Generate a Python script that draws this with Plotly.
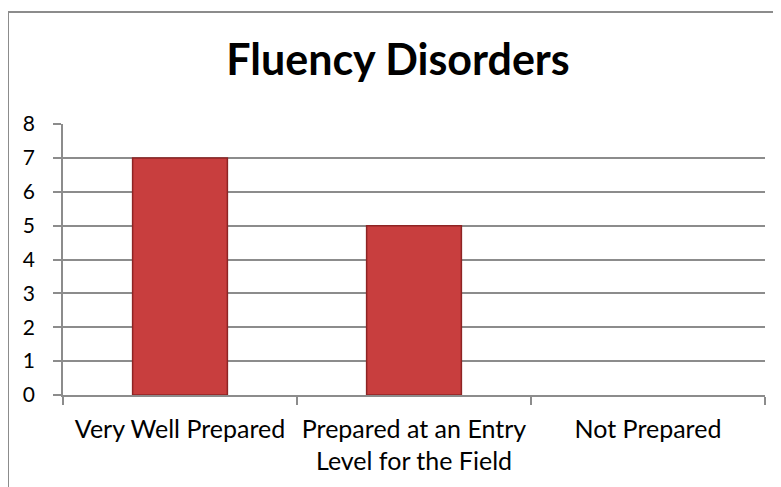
import plotly.graph_objects as go

categories = ["Very Well Prepared", "Prepared at an Entry<br>Level for the Field", "Not Prepared"]
values = [7, 5, 0]
y_ticks = [0, 1, 2, 3, 4, 5, 6, 7, 8]
title_text = "Fluency Disorders"

# page body has an 8px margin; size the figure so it fits the 781x487 window
W, H = 773, 479
L, R, T, B = 55, 16, 116, 92
FONT = "Lato"

fig = go.Figure()
fig.add_trace(go.Bar(
    x=categories, y=values,
    marker=dict(color="#C83E3E",
                line=dict(color="#8E2424", width=[1.5 if v > 0 else 0 for v in values])),
    width=0.405,
    hoverinfo="x+y",
))

pw = W - L - R
ph = H - T - B

def px_x(px):
    return (px - L) / pw

def px_y(py):
    return (H - B - py) / ph

# chart frame (top and left edges visible)
fig.add_shape(type="line", xref="paper", yref="paper",
              x0=px_x(0), x1=px_x(800), y0=px_y(4), y1=px_y(4),
              line=dict(color="#8C8C8C", width=2))
fig.add_shape(type="line", xref="paper", yref="paper",
              x0=px_x(0), x1=px_x(0), y0=px_y(4), y1=px_y(500),
              line=dict(color="#8C8C8C", width=2))

fig.update_layout(
    width=W, height=H,
    margin=dict(l=L, r=R, t=T, b=B, autoexpand=False),
    paper_bgcolor="white", plot_bgcolor="white",
    showlegend=False,
    font=dict(family=FONT, color="black", size=25),
    title=dict(text="<b>" + title_text + "</b>", x=390 / W, xanchor="center",
               xref="container", y=1 - 52 / H, yref="container", yanchor="middle",
               font=dict(family=FONT, size=43, color="black")),
)
fig.update_xaxes(
    type="category", tickson="boundaries", ticks="outside", ticklen=8,
    tickcolor="#8C8C8C", tickwidth=1.5, showgrid=False,
    showline=True, linecolor="#8C8C8C", linewidth=1.5,
    tickangle=0, ticklabelstandoff=11,
    tickfont=dict(family=FONT, size=25, color="black"),
)
fig.update_yaxes(
    range=[0, 8], tickvals=y_ticks, ticks="outside", ticklen=8,
    tickcolor="#8C8C8C", tickwidth=1.5,
    showgrid=True, gridcolor="#8C8C8C", gridwidth=1.5,
    showline=True, linecolor="#8C8C8C", linewidth=1.5,
    zeroline=False, ticklabelstandoff=14,
    tickfont=dict(family=FONT, size=21, color="black"),
)

fig.write_html("out.html")
